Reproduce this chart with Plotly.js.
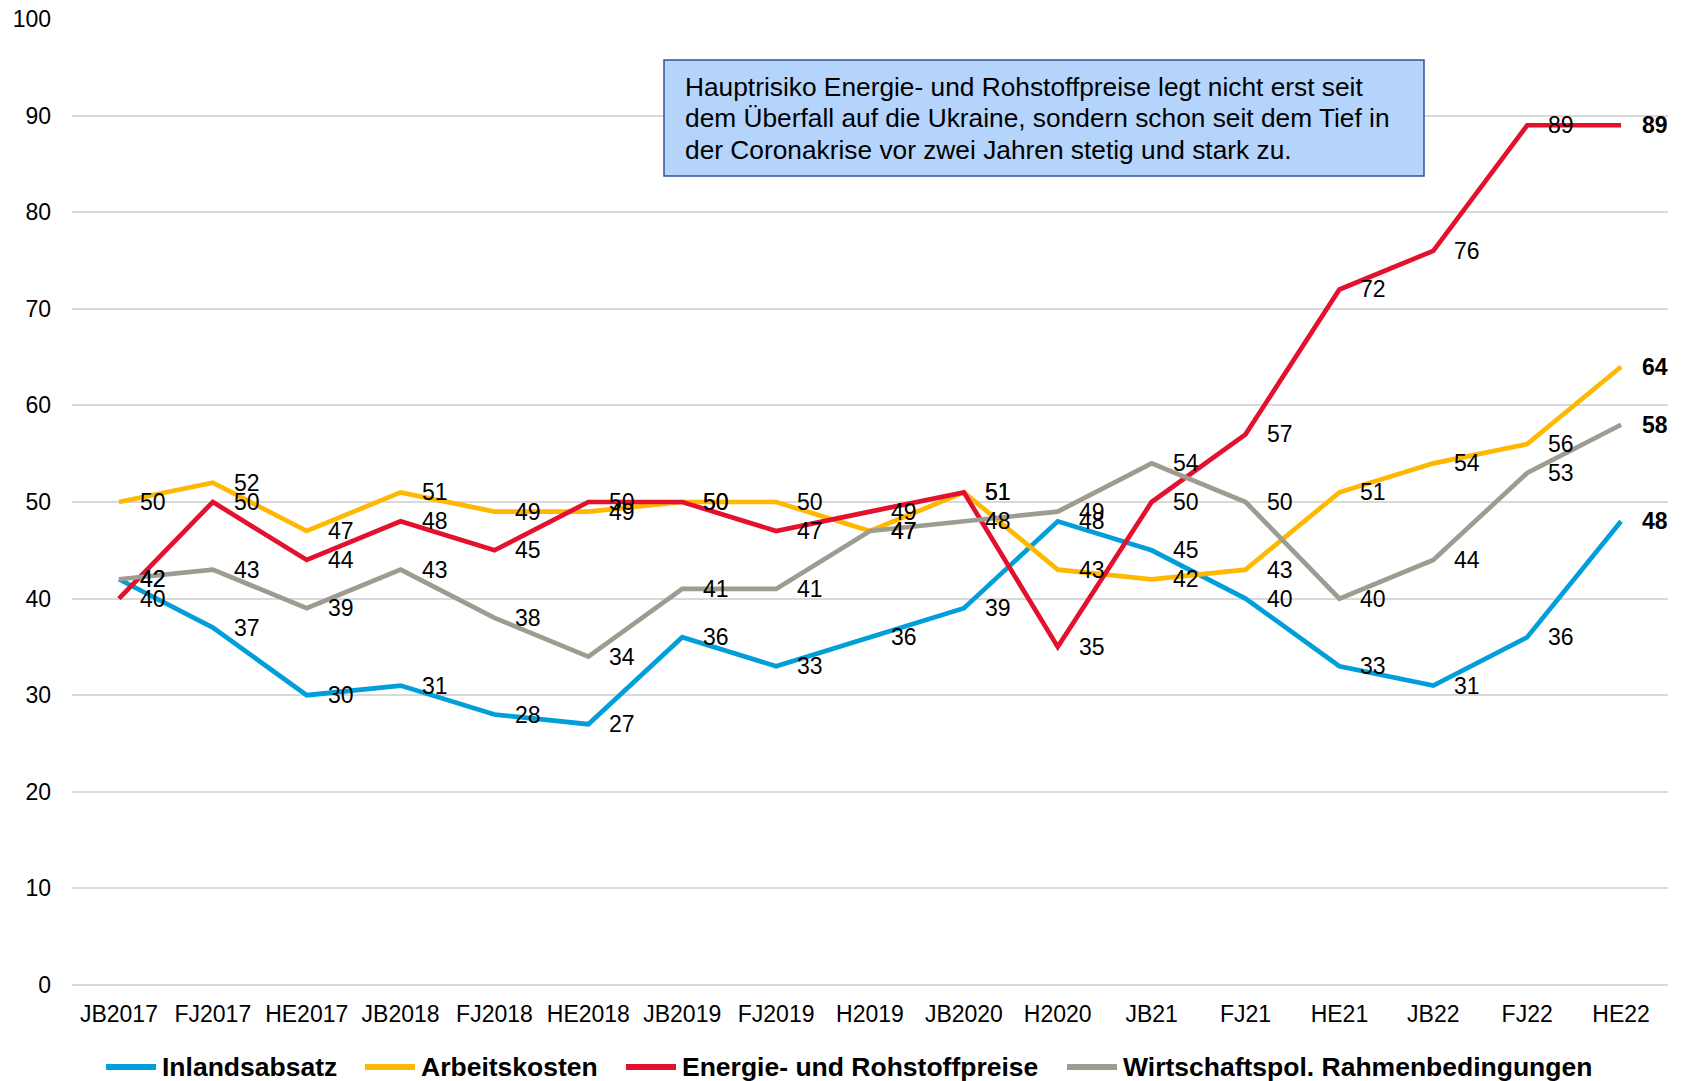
<!DOCTYPE html>
<html>
<head>
<meta charset="utf-8">
<script src="https://cdn.plot.ly/plotly-3.0.1.min.js"></script>
<style>
html,body{margin:0;padding:0;background:#fff;}
#chart{width:1685px;height:1081px;}
</style>
</head>
<body>
<div id="chart"></div>
<script>
const categories = ["JB2017","FJ2017","HE2017","JB2018","FJ2018","HE2018","JB2019","FJ2019","H2019","JB2020","H2020","JB21","FJ21","HE21","JB22","FJ22","HE22"];
const inlandsabsatz = [42,37,30,31,28,27,36,33,36,39,48,45,40,33,31,36,48];
const arbeitskosten = [50,52,47,51,49,49,50,50,47,51,43,42,43,51,54,56,64];
const energie = [40,50,44,48,45,50,50,47,49,51,35,50,57,72,76,89,89];
const wirtschaftspol = [42,43,39,43,38,34,41,41,47,48,49,54,50,40,44,53,58];
const seriesNames = ["Inlandsabsatz","Arbeitskosten","Energie- und Rohstoffpreise","Wirtschaftspol. Rahmenbedingungen"];
const yTicks = [0,10,20,30,40,50,60,70,80,90,100];
const noteLines = [
  "Hauptrisiko Energie- und Rohstoffpreise legt nicht erst seit",
  "dem Überfall auf die Ukraine, sondern schon seit dem Tief in",
  "der Coronakrise vor zwei Jahren stetig und stark zu."
];

const seriesValues = [inlandsabsatz, arbeitskosten, energie, wirtschaftspol];
const colors = ["#009fd9","#ffb800","#e3102e","#9c9c90"];
const FONT = "Liberation Sans, Arial, sans-serif";

// plot area geometry (pixels) used to convert decoration positions into paper coords
const PL = 72, PR = 1668, PT = 19, PB = 985;
const px2x = p => (p - PL) / (PR - PL);
const px2y = p => (PB - p) / (PB - PT);

const traces = seriesValues.map((vals, k) => ({
  type: "scatter",
  mode: "lines",
  x: categories,
  y: vals,
  name: seriesNames[k],
  line: {color: colors[k], width: 4.7},
  hoverinfo: "skip",
  showlegend: false
}));

const annotations = [];
seriesValues.forEach((vals) => {
  vals.forEach((v, i) => {
    const last = i === vals.length - 1;
    annotations.push({
      x: categories[i], y: v, xref: "x", yref: "y",
      text: last ? "<b>" + v + "</b>" : String(v),
      showarrow: false, xanchor: "left", yanchor: "middle",
      xshift: 19,
      font: {family: FONT, size: 23, color: "#000"}
    });
  });
});

// note box text
const noteY = [87, 118.5, 150];
noteLines.forEach((t, i) => {
  annotations.push({
    xref: "paper", yref: "paper", x: px2x(683), y: px2y(noteY[i]),
    xanchor: "left", yanchor: "middle", align: "left",
    text: t, showarrow: false,
    font: {family: FONT, size: 26.3, color: "#000"}
  });
});

// legend (line swatch + bold name)
const legendX = [103, 362, 623, 1064];
const legendY = 1067;
const shapes = [{
  type: "rect", xref: "paper", yref: "paper",
  x0: px2x(664), x1: px2x(1424), y0: px2y(176), y1: px2y(60),
  fillcolor: "#b4d4fc", line: {color: "#2f5496", width: 1.5}, layer: "above"
}];
seriesNames.forEach((n, k) => {
  shapes.push({
    type: "line", xref: "paper", yref: "paper",
    x0: px2x(legendX[k] + 3), x1: px2x(legendX[k] + 53), y0: px2y(legendY), y1: px2y(legendY),
    line: {color: colors[k], width: 6}
  });
  annotations.push({
    xref: "paper", yref: "paper", x: px2x(legendX[k] + 57), y: px2y(legendY),
    xanchor: "left", yanchor: "middle", showarrow: false,
    text: "<b>" + n + "</b>",
    font: {family: FONT, size: 26.5, color: "#000"}
  });
});

const layout = {
  width: 1685, height: 1081,
  margin: {l: PL, r: 1685 - PR, t: PT, b: 1081 - PB},
  paper_bgcolor: "#fff", plot_bgcolor: "#fff",
  showlegend: false,
  xaxis: {
    type: "category", range: [-0.5, 16.5], showgrid: false, zeroline: false,
    showline: false, ticks: "", ticklabelstandoff: 13,
    tickfont: {family: FONT, size: 23, color: "#000"}
  },
  yaxis: {
    range: [0, 100], tickvals: yTicks, showgrid: true, gridcolor: "#d9d9d9", gridwidth: 2,
    zeroline: true, zerolinecolor: "#d9d9d9", zerolinewidth: 2, showline: false,
    ticks: "", ticklabelstandoff: 20,
    tickfont: {family: FONT, size: 23, color: "#000"}
  },
  shapes: shapes,
  annotations: annotations
};

Plotly.newPlot("chart", traces, layout, {displayModeBar: false, staticPlot: true});
</script>
</body>
</html>
